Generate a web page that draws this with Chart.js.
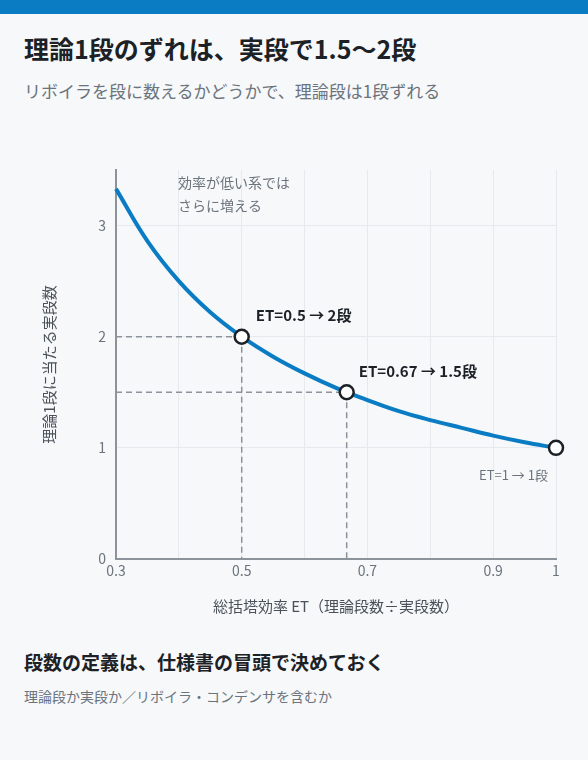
<!DOCTYPE html>
<html lang="ja">
<head>
<meta charset="utf-8">
<script src="https://cdn.jsdelivr.net/npm/chart.js@4/dist/chart.umd.min.js"></script>
<style>
  body { margin: 0; width: 588px; height: 760px; background: #f6f8fa; font-family: "Noto Sans CJK JP", "Noto Sans", sans-serif; position: relative; overflow: hidden; }
  .bar { position: absolute; left: 0; top: 0; width: 588px; height: 14px; background: #0a7cc4; }
  h1 { position: absolute; left: 24px; top: 30px; margin: 0; font-size: 25px; font-weight: 700; color: #1c2126; }
  .sub { position: absolute; left: 24px; top: 78px; font-size: 17px; color: #6b737c; }
  .wrap { position: absolute; left: 0; top: 150px; width: 588px; height: 469px; }
  h2 { position: absolute; left: 24px; top: 648px; margin: 0; font-size: 19px; font-weight: 700; color: #1c2126; }
  .note { position: absolute; left: 24px; top: 686px; font-size: 14px; color: #6b737c; }
</style>
</head>
<body>
<div class="bar"></div>
<h1>理論1段のずれは、実段で1.5〜2段</h1>
<div class="sub">リボイラを段に数えるかどうかで、理論段は1段ずれる</div>
<div class="wrap"><canvas id="chart"></canvas></div>
<h2>段数の定義は、仕様書の冒頭で決めておく</h2>
<div class="note">理論段か実段か／リボイラ・コンデンサを含むか</div>
<script>
// 総括塔効率 ET と 理論1段に当たる実段数
const etValues = [0.3, 0.35, 0.4, 0.45, 0.5, 0.55, 0.6, 0.65, 0.7, 0.75, 0.8, 0.85, 0.9, 0.95, 1.0];
const stageValues = [3.33, 2.86, 2.5, 2.22, 2.0, 1.82, 1.67, 1.54, 1.43, 1.33, 1.25, 1.18, 1.11, 1.05, 1.0];
const markerEt = [0.5, 0.667, 1.0];
const markerStages = [2.0, 1.5, 1.0];
const xTickLabels = ['0.3', '0.5', '0.7', '0.9', '1'];

const FONT = '"Noto Sans CJK JP", "Noto Sans", sans-serif';

// 破線ガイドと注記
const guidePlugin = {
    id: 'guides',
    beforeDatasetsDraw(chart) {
        const { ctx, scales: { x, y } } = chart;
        ctx.save();
        ctx.strokeStyle = '#8d939a';
        ctx.lineWidth = 1.5;
        ctx.setLineDash([6, 4]);
        for (let i = 0; i < 2; i++) {
            const px = x.getPixelForValue(markerEt[i]);
            const py = y.getPixelForValue(markerStages[i]);
            ctx.beginPath();
            ctx.moveTo(x.left, py);
            ctx.lineTo(px, py);
            ctx.moveTo(px, py);
            ctx.lineTo(px, y.bottom);
            ctx.stroke();
        }
        ctx.restore();
    },
    afterDatasetsDraw(chart) {
        const { ctx, scales: { x, y } } = chart;
        ctx.save();
        ctx.textBaseline = 'middle';
        ctx.fillStyle = '#6b737c';
        ctx.font = `14px ${FONT}`;
        ctx.fillText('効率が低い系では', x.getPixelForValue(0.3) + 62, y.top + 13);
        ctx.fillText('さらに増える', x.getPixelForValue(0.3) + 62, y.top + 36);
        ctx.fillStyle = '#1c2126';
        ctx.font = `bold 15px ${FONT}`;
        ctx.fillText('ET=0.5 → 2段', x.getPixelForValue(0.5) + 14, y.getPixelForValue(2) - 21);
        ctx.fillText('ET=0.67 → 1.5段', x.getPixelForValue(0.667) + 12, y.getPixelForValue(1.5) - 21);
        ctx.fillStyle = '#6b737c';
        ctx.font = `13px ${FONT}`;
        ctx.textAlign = 'right';
        ctx.fillText('ET=1 → 1段', x.getPixelForValue(1) - 8, y.getPixelForValue(1) + 27);
        ctx.restore();
    }
};

new Chart(document.getElementById('chart'), {
    type: 'scatter',
    data: {
        datasets: [
            {
                data: etValues.map((v, i) => ({ x: v, y: stageValues[i] })),
                showLine: true,
                borderColor: '#0a7cc4',
                borderWidth: 4,
                pointRadius: 0,
                tension: 0.4,
                clip: false,
                order: 2,
            },
            {
                data: markerEt.map((v, i) => ({ x: v, y: markerStages[i] })),
                pointRadius: 7,
                pointBackgroundColor: '#ffffff',
                pointBorderColor: '#1c2126',
                pointBorderWidth: 2.5,
                clip: false,
                order: 1,
            },
        ],
    },
    options: {
        responsive: true,
        maintainAspectRatio: false,
        animation: false,
        layout: { padding: { top: 20, right: 32, left: 0, bottom: 0 } },
        plugins: { legend: { display: false }, tooltip: { enabled: false } },
        scales: {
            x: {
                type: 'linear',
                min: 0.3,
                max: 1,
                afterFit: (s) => { s.height = 60; },
                ticks: {
                    stepSize: 0.1,
                    autoSkip: false,
                    maxRotation: 0,
                    color: '#6b737c',
                    font: { size: 14, family: FONT },
                    callback: (v) => {
                        const label = String(Math.round(v * 10) / 10);
                        return xTickLabels.includes(label) ? label : '';
                    },
                },
                grid: { color: '#e6eaee', drawTicks: false },
                border: { color: '#8d939a', width: 2 },
                title: {
                    display: true,
                    text: '総括塔効率 ET（理論段数÷実段数）',
                    color: '#4a5159',
                    font: { size: 15, family: FONT },
                    padding: { top: 6 },
                },
            },
            y: {
                min: 0,
                max: 3.5,
                afterFit: (s) => { s.width = 116; },
                afterBuildTicks: (s) => { s.ticks = s.ticks.filter(t => Number.isInteger(t.value)); },
                ticks: {
                    stepSize: 1,
                    padding: 10,
                    color: '#6b737c',
                    font: { size: 14, family: FONT },
                },
                grid: { color: '#e6eaee', drawTicks: false },
                border: { color: '#8d939a', width: 2 },
                title: {
                    display: true,
                    text: '理論1段に当たる実段数',
                    color: '#4a5159',
                    font: { size: 15, family: FONT },
                    padding: { top: 40 },
                },
            },
        },
    },
    plugins: [guidePlugin],
});
</script>
</body>
</html>
